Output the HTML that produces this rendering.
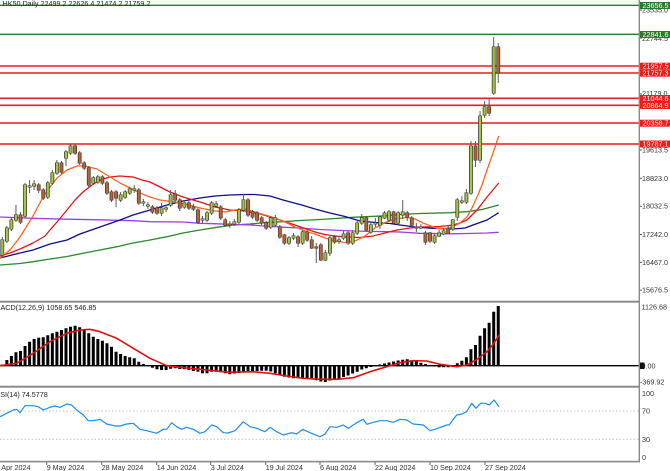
<!DOCTYPE html>
<html><head><meta charset="utf-8"><style>
html,body{margin:0;padding:0;background:#fff;}
svg{display:block;}
text{font-family:"Liberation Sans",Arial,sans-serif;font-size:7.2px;}
</style></head><body>
<svg width="670" height="471" viewBox="0 0 670 471" xmlns="http://www.w3.org/2000/svg">
<rect x="0" y="0" width="670" height="471" fill="#fff"/>

<!-- Horizontal levels -->
<g stroke-width="1.3" fill="none">
<line x1="0" y1="5.3" x2="639" y2="5.3" stroke="#2a7a2a"/>
<line x1="0" y1="34.3" x2="639" y2="34.3" stroke="#2a7a2a"/>
</g>
<g stroke="#ee1c1c" stroke-width="1.6" fill="none">
<line x1="0" y1="66" x2="639" y2="66"/>
<line x1="0" y1="73" x2="639" y2="73"/>
<line x1="0" y1="98.3" x2="639" y2="98.3"/>
<line x1="0" y1="105.3" x2="639" y2="105.3"/>
<line x1="0" y1="123" x2="639" y2="123"/>
<line x1="0" y1="144" x2="639" y2="144"/>
</g>

<!-- Title -->
<text x="2.5" y="6" fill="#222">HK50,Daily  22499.2 22626.4 21474.2 21759.2</text>

<!-- Moving averages -->
<g fill="none" stroke-width="1.3" stroke-linejoin="round">
<polyline stroke="#2a8a2a" points="0,265 20,263.5 33,261.7 50,259 67,256.5 83,253.3 100,250 117,246.7 133,243 150,240 167,236.7 183,233 200,230 217,227.3 233,225 250,224 267,222.5 283,221.7 300,220.5 320,219.5 353,217.3 387,215.7 400,214.5 420,213.5 450,212.7 467,211.7 483,209.3 498.7,205"/>
<polyline stroke="#a03cf0" points="0,217 33,218.3 67,219.2 100,219.8 133,220.7 150,221.7 183,222 200,223.3 217,223.8 250,225 283,227.2 300,228 320,229.5 353,231 387,231.7 400,232 420,233.3 450,233.8 467,233.5 487,233 498.7,232.3"/>
<polyline stroke="#0c0c8c" points="0,258 20,253 33,250 50,244 67,240 80,234 100,227 120,220 133,215 150,210 167,205 183,201 200,198 215,196 230,195 245,194.5 255,194.5 270,196 283,200 300,204.5 315,209 330,213 345,216.5 360,221 375,222.5 390,223.5 400,225 415,227 433,228.3 453,229 465,228 473,225 487,220 498.7,212.7"/>
<polyline stroke="#e8141a" points="0,256 10,253 20,249 33,243 45,236 50,230 57,222 67,210 75,200 83,192 92,185 100,180 110,177 120,176 133,177 142,180 150,182 160,187 170,192 183,197 200,202 215,207 230,210 245,211 260,214 272,217.5 283,221 295,225 305,228.5 315,232 325,234.5 335,236 347,237 360,237.5 373,236 385,233 397,230 410,228 420,227 440,226.5 453,225 460,223 467,220 477,210 487,197 498.7,183"/>
<polyline stroke="#ff6420" points="0,258 10,250 20,237 33,216 43,197 50,187 57,178 67,170 77,166 85,166 97,169 110,177 120,183 130,188 140,193 150,197 160,200 175,202 185,204 200,208 215,211 225,212 235,210 245,209 255,212 265,215 275,218 285,222 295,227 305,231 315,234 325,238 335,241 345,242.5 355,241 365,236 375,228 385,222.5 395,219 407,217.3 415,219 423,223 437,228.3 445,228.5 453,226.7 460,223 467,217 472,208 477,197 482,185 487,170 493,153 498.7,136"/>
</g>

<!-- Candles (scaled: x = 2.3 + 4.55*i) -->
<g transform="translate(2.3 0) scale(4.55 1)" fill="none">
<path vector-effect="non-scaling-stroke" stroke="#5a5a5a" stroke-width="1" d="M0 237V258M1 226V243M2 217V231M3 205V222M4 212V224M5 183V218M6 180V193M7 180V190M8 183V193M9 188V200M10 181V199M11 170V185M12 160V175M13 161V174M14 150V166M15 144V155M16 144V155M17 151V165M18 161V170M19 166V187M20 176V185M21 175V184M22 175V185M23 181V195M24 190V202M25 190V207M26 192V202M27 190V199M28 187V195M29 185V193M30 188V205M31 199V206M32 202V209M33 205V214M34 206V215M35 203V216M36 205V212M37 190V207M38 190V202M39 198V211M40 200V209M41 201V210M42 204V211M43 208V224M44 216V223M45 211V222M46 201V215M47 201V208M48 205V220M49 218V227M50 221V228M51 219V226M52 208V224M53 194V212M54 198V217M55 210V219M56 211V222M57 216V225M58 221V230M59 216V229M60 215V227M61 225V239M62 234V245M63 236V245M64 233V240M65 235V247M66 230V245M67 230V242M68 236V249M69 243V263M70 243V261M71 250V261M72 236V256M73 235V244M74 236V244M75 231V240M76 231V245M77 230V245M78 221V235M79 214V225M80 216V232M81 223V234M82 218V227M83 216V229M84 211V219M85 210V222M86 211V224M87 211V225M88 200V219M89 211V221M90 216V227M91 223V232M92 224V229M93 231V245M94 232V243M95 234V244M96 230V237M97 228V235M98 226V233M99 219V231M100 198V221M101 196V204M102 189V204M103 141V195M104 141V167M105 111V163M106 101V118M107 98V116M108 37V95M109 43V83"/>
<path vector-effect="non-scaling-stroke" stroke="#3a3a3a" stroke-width="3.8" d="M0 239.5V255.5M1 227.5V241.5M2 219.5V229.5M3 214.5V220.5M4 214.5V222.5M5 184.5V216.5M6 185.5V187.5M7 183.5V186.5M8 184.5V190.5M9 189.5V198.5M10 182.5V197.5M11 172.5V183.5M12 162.5V173.5M13 162.5V172.5M14 151.5V158.5M15 145.5V153.5M16 145.5V153.5M17 152.5V163.5M18 162.5V168.5M19 167.5V185.5M20 177.5V183.5M21 176.5V182.5M22 176.5V183.5M23 182.5V193.5M24 191.5V200.5M25 191.5V198.5M26 194.5V200.5M27 191.5V197.5M28 188.5V193.5M29 188.5V190.5M30 189.5V203.5M31 201.5V203.5M32 204.5V206.5M33 206.5V212.5M34 207.5V213.5M35 207.5V213.5M36 207.5V209.5M37 194.5V205.5M38 193.5V200.5M39 199.5V208.5M40 202.5V207.5M41 202.5V208.5M42 206.5V209.5M43 209.5V222.5M44 218.5V220.5M45 212.5V220.5M46 202.5V213.5M47 203.5V206.5M48 206.5V218.5M49 219.5V225.5M50 223.5V225.5M51 221.5V224.5M52 209.5V222.5M53 199.5V210.5M54 199.5V215.5M55 211.5V217.5M56 212.5V220.5M57 217.5V223.5M58 222.5V228.5M59 217.5V227.5M60 217.5V225.5M61 226.5V237.5M62 234.5V243.5M63 237.5V243.5M64 235.5V238.5M65 236.5V243.5M66 231.5V243.5M67 231.5V240.5M68 239.5V248.5M69 246.5V248.5M70 244.5V260.5M71 252.5V260.5M72 237.5V253.5M73 236.5V242.5M74 239.5V241.5M75 233.5V238.5M76 232.5V243.5M77 232.5V243.5M78 222.5V233.5M79 217.5V223.5M80 217.5V230.5M81 224.5V232.5M82 222.5V224.5M83 216.5V225.5M84 212.5V218.5M85 211.5V220.5M86 211.5V223.5M87 212.5V223.5M88 211.5V215.5M89 212.5V217.5M90 217.5V225.5M91 226.5V228.5M92 226.5V228.5M93 232.5V242.5M94 232.5V241.5M95 235.5V242.5M96 232.5V236.5M97 230.5V234.5M98 228.5V233.5M99 219.5V229.5M100 199.5V217.5M101 200.5V202.5M102 192.5V202.5M103 145.5V193.5M104 145.5V160.5M105 115.5V160.5M106 106.5V115.5M107 106.5V113.5M108 46.5V93.5M109 46.5V73.5"/>
<path vector-effect="non-scaling-stroke" stroke="#a8c83c" stroke-width="2.2" d="M0 240V255M1 228V241M2 220V229M3 215V220M5 185V216M6 186V187M7 184V186M10 183V197M11 173V183M12 163V173M14 152V158M15 146V153M20 178V183M21 177V182M26 195V200M27 192V197M28 189V193M29 189V190M31 202V203M32 205V206M35 208V213M36 208V209M37 195V205M40 203V207M44 219V220M45 213V220M46 203V213M47 204V206M51 222V224M52 210V222M53 200V210M59 218V227M60 218V225M63 238V243M64 236V238M66 232V243M71 253V260M72 238V253M74 240V241M75 234V238M77 233V243M78 223V233M79 218V223M81 225V232M82 223V224M83 217V225M84 213V218M85 212V220M87 213V223M88 212V215M92 227V228M95 236V242M96 233V236M97 231V234M99 220V229M100 200V217M101 201V202M102 193V202M103 146V193M105 116V160M106 107V115M108 47V93"/>
<path vector-effect="non-scaling-stroke" stroke="#c4622d" stroke-width="2.2" d="M4 215V222M8 185V190M9 190V198M13 163V172M16 146V153M17 153V163M18 163V168M19 168V185M22 177V183M23 183V193M24 192V200M25 192V198M30 190V203M33 207V212M34 208V213M38 194V200M39 200V208M41 203V208M42 207V209M43 210V222M48 207V218M49 220V225M50 224V225M54 200V215M55 212V217M56 213V220M57 218V223M58 223V228M61 227V237M62 235V243M65 237V243M67 232V240M68 240V248M69 247V248M70 245V260M73 237V242M76 233V243M80 218V230M86 212V223M89 213V217M90 218V225M91 227V228M93 233V242M94 233V241M98 229V233M104 146V160M107 107V113M109 47V73"/>
</g>

<!-- Price axis gray labels -->
<g fill="#333">
<text x="642" y="12.7">23535.0</text>
<text x="642" y="40.9">22744.5</text>
<text x="642" y="96">21179.0</text>
<text x="642" y="152.7">19613.5</text>
<text x="642" y="180.9">18823.0</text>
<text x="642" y="208.7">18032.5</text>
<text x="642" y="236.9">17242.0</text>
<text x="642" y="264.8">16467.0</text>
<text x="642" y="292.6">15676.5</text>
</g>
<g stroke="#555" stroke-width="1">
<line x1="639" y1="10" x2="642" y2="10"/><line x1="639" y1="38" x2="642" y2="38"/>
<line x1="639" y1="94" x2="642" y2="94"/><line x1="639" y1="150" x2="642" y2="150"/>
<line x1="639" y1="178.3" x2="642" y2="178.3"/><line x1="639" y1="206.3" x2="642" y2="206.3"/>
<line x1="639" y1="234.5" x2="642" y2="234.5"/><line x1="639" y1="262.4" x2="642" y2="262.4"/>
<line x1="639" y1="290.2" x2="642" y2="290.2"/>
</g>

<!-- Level boxes -->
<rect x="639.5" y="2" width="31" height="7" fill="#2a7a2a"/>
<text x="642.5" y="8" fill="#fff">23656.5</text>
<rect x="639.5" y="31" width="31" height="7" fill="#2a7a2a"/>
<text x="642.5" y="37" fill="#fff">22841.6</text>
<rect x="639.5" y="62.7" width="31" height="7" fill="#f21c1c"/>
<text x="642.5" y="68.7" fill="#fff">21957.5</text>
<rect x="639.5" y="69.7" width="31" height="7" fill="#f21c1c"/>
<text x="642.5" y="75.7" fill="#fff">21757.3</text>
<rect x="639.5" y="95" width="31" height="7" fill="#f21c1c"/>
<text x="642.5" y="101" fill="#fff">21044.6</text>
<rect x="639.5" y="102" width="31" height="7" fill="#f21c1c"/>
<text x="642.5" y="108" fill="#fff">20864.9</text>
<rect x="639.5" y="119.7" width="31" height="7" fill="#f21c1c"/>
<text x="642.5" y="125.7" fill="#fff">20358.7</text>
<rect x="639.5" y="140.5" width="31" height="7" fill="#f21c1c"/>
<text x="642.5" y="146.5" fill="#fff">19787.1</text>

<!-- MACD panel -->
<text x="-5.5" y="310" fill="#222">MACD(12,26,9) 1058.65 546.85</text>
<g transform="translate(2.3 0) scale(4.55 1)">
<path vector-effect="non-scaling-stroke" stroke="#000" stroke-width="3" fill="none" d="M0 365.7V364.5M1 365.7V360M2 365.7V356M3 365.7V352.3M4 365.7V351M5 365.7V346M6 365.7V341.7M7 365.7V339M8 365.7V337.7M9 365.7V337.3M10 365.7V335.3M11 365.7V333.3M12 365.7V331.7M13 365.7V330M14 365.7V328.3M15 365.7V326.7M16 365.7V325.7M17 365.7V327.3M18 365.7V329.3M19 365.7V333.3M20 365.7V336.7M21 365.7V339M22 365.7V340.7M23 365.7V343.3M24 365.7V346.7M25 365.7V351.7M26 365.7V354M27 365.7V356M28 365.7V357.3M29 365.7V358.3M30 365.7V361.7M31 365.7V364M32 365.7V366.5M33 365.7V367.7M34 365.7V369.3M35 365.7V370M36 365.7V370M37 365.7V368.7M38 365.7V368.3M39 365.7V369M40 365.7V369.3M41 365.7V370M42 365.7V371M43 365.7V371.7M44 365.7V373.3M45 365.7V373.3M46 365.7V371.7M47 365.7V371.7M48 365.7V372.3M49 365.7V373.3M50 365.7V374.3M51 365.7V373.5M52 365.7V373M53 365.7V372.3M54 365.7V371.7M55 365.7V371.3M56 365.7V371M57 365.7V370.7M58 365.7V370.7M59 365.7V371.5M60 365.7V373.3M61 365.7V375.5M62 365.7V376.7M63 365.7V377.5M64 365.7V378.3M65 365.7V378.3M66 365.7V378.3M67 365.7V378.3M68 365.7V379.3M69 365.7V380.3M70 365.7V381.5M71 365.7V382M72 365.7V380.5M73 365.7V379.5M74 365.7V378.5M75 365.7V377M76 365.7V375.5M77 365.7V373.5M78 365.7V371.7M79 365.7V369.5M80 365.7V368.3M81 365.7V367M82 365.7V366.4M83 365.7V364.5M84 365.7V363.5M85 365.7V362.5M86 365.7V361.5M87 365.7V360.5M88 365.7V359.7M89 365.7V359.3M90 365.7V360.2M91 365.7V361.3M92 365.7V362.7M93 365.7V364M94 365.7V365M95 365.7V366.5M96 365.7V367.2M97 365.7V367.3M98 365.7V367.3M99 365.7V367M100 365.7V363.3M101 365.7V360.7M102 365.7V357.3M103 365.7V349.3M104 365.7V345M105 365.7V335.7M106 365.7V328.3M107 365.7V322.7M108 365.7V311.7M109 365.7V306"/>
</g>
<line x1="0" y1="365.7" x2="639" y2="365.7" stroke="#000" stroke-width="1.4"/>
<polyline fill="none" stroke="#e01010" stroke-width="1.6" stroke-linejoin="round" points="0,365.7 16.7,363.3 33.3,353.3 50,341.7 66.7,333.3 80,330 90,329.3 100,331.7 116.7,338.3 133.3,348.3 150,358.3 166.7,365.7 183.3,367.7 200,369.3 216.7,371 230,372.3 253,371.7 270,373.3 286.7,376 303.3,378.3 320,379.3 336.7,379.3 353.3,377.7 370,371.7 386.7,366.7 400,362.7 413.3,360.7 426.7,361 440,364.3 450,365.7 457,366.7 467,365 477,359.3 487,351.7 493.3,344 499.3,335"/>
<text x="641.5" y="309.3" fill="#333">1126.68</text>
<text x="641.5" y="368.3" fill="#333">0.00</text>
<rect x="639.5" y="362.5" width="5" height="6.5" fill="#111"/>
<text x="640" y="384.6" fill="#333">-369.92</text>

<!-- RSI panel -->
<text x="-5" y="397" fill="#222">RSI(14) 74.5778</text>
<g stroke="#c4c4c4" stroke-width="1" stroke-dasharray="1.5,2">
<line x1="0" y1="411" x2="639" y2="411"/>
<line x1="0" y1="439.3" x2="639" y2="439.3"/>
</g>
<polyline fill="none" stroke="#1e8cf0" stroke-width="1.2" stroke-linejoin="round" points="0,416.7 6.7,413.3 13.3,410 16.7,409.3 20,412.7 25,405.7 33.3,405.7 38.3,406.7 43.3,410 50,407.3 55,406 60,407.3 66.7,404 71.7,405 76.7,410 83.3,415 88.3,420.7 93.3,420.7 100,419.3 106.7,424 115,426 120,426 126.7,424 133.3,423.3 140,429.3 146.7,430.7 156.7,433.3 163.3,429.3 166.7,429.3 171.7,422.7 176.7,426.7 181.7,429.3 186.7,427.3 193.3,429.3 200,433.3 205,431.7 211.7,425 216.7,426.7 223.3,432.7 228,433 235,430.7 243.3,421.7 250,426.7 256.7,428.3 265,431.7 270,427.3 276.7,431.7 283.3,435 291.7,432.7 296.7,434 302.7,429.3 310,432.7 320,436.7 325,434 330,426.7 336.7,427.3 343.3,425 348.3,428.3 356.7,422.7 363.3,419.3 366.7,424.3 373.3,422.3 380,420.7 386.7,420.7 393.3,422.3 400,419.3 406.7,420 413.3,424 423.3,425 430,430.7 436.7,428.7 446.7,425 449,425 456.7,415 461.7,414 466.7,411.7 471.7,403.3 476,408.3 480.7,403.3 485,403.3 489.3,405 494,400 499,406.7"/>
<g fill="#333">
<text x="642" y="396">100</text>
<text x="642" y="413.6">70</text>
<text x="642" y="441.9">30</text>
<text x="642" y="460">0</text>
</g>

<!-- Separators and axis -->
<rect x="0" y="300.7" width="640" height="2" fill="#8a8a8a"/>
<rect x="0" y="385.7" width="640" height="2" fill="#8a8a8a"/>
<rect x="0" y="460.8" width="640" height="1.6" fill="#8a8a8a"/>
<rect x="638.6" y="0" width="1.4" height="462.4" fill="#8a8a8a"/>

<!-- Date ticks and labels -->
<g stroke="#666" stroke-width="1">
<line x1="46.7" y1="462" x2="46.7" y2="465"/><line x1="101.7" y1="462" x2="101.7" y2="465"/>
<line x1="156.7" y1="462" x2="156.7" y2="465"/><line x1="210.7" y1="462" x2="210.7" y2="465"/>
<line x1="265.7" y1="462" x2="265.7" y2="465"/><line x1="320" y1="462" x2="320" y2="465"/>
<line x1="375" y1="462" x2="375" y2="465"/><line x1="430" y1="462" x2="430" y2="465"/>
<line x1="485" y1="462" x2="485" y2="465"/>
</g>
<g fill="#333">
<text x="-8.3" y="470">23 Apr 2024</text>
<text x="46.7" y="470">9 May 2024</text>
<text x="101.7" y="470">28 May 2024</text>
<text x="156.7" y="470">14 Jun 2024</text>
<text x="210.7" y="470">3 Jul 2024</text>
<text x="265.7" y="470">19 Jul 2024</text>
<text x="320" y="470">6 Aug 2024</text>
<text x="375" y="470">22 Aug 2024</text>
<text x="430" y="470">10 Sep 2024</text>
<text x="485" y="470">27 Sep 2024</text>
</g>
</svg>
</body></html>
